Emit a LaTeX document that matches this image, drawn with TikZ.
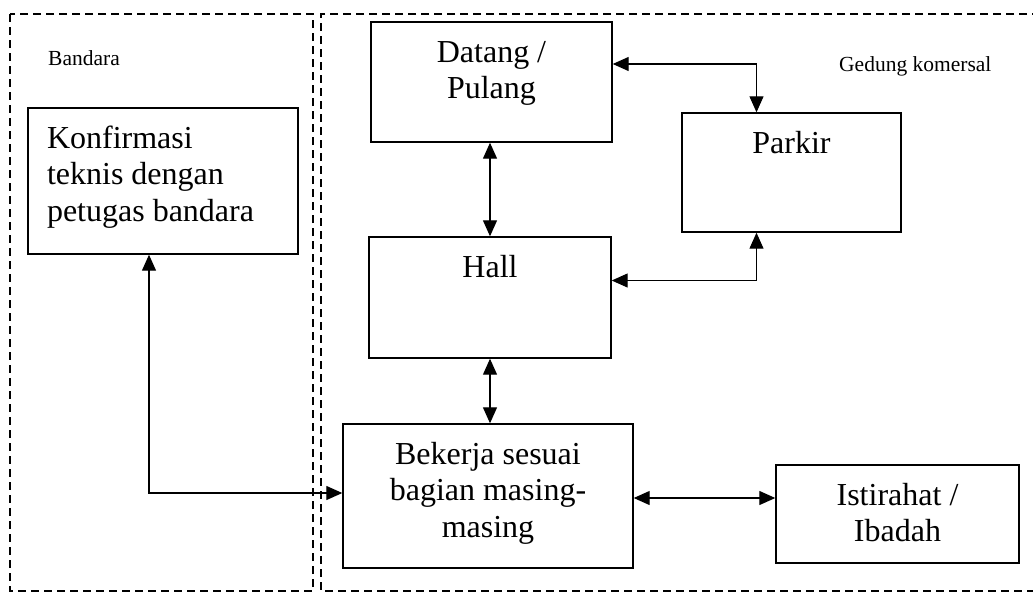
\documentclass[tikz,border=0pt]{standalone}
\usepackage{fontspec}
\setmainfont{Liberation Serif}
\usetikzlibrary{arrows.meta,calc}
\tikzset{>={Triangle[width=14pt,length=16pt]}}
\tikzset{
  box/.style={draw, line width=1.4pt, inner xsep=19pt, inner ysep=0pt,
    font=\fontsize{32}{36.5}\selectfont},
  region/.style={line width=1.3pt, dash pattern=on 8pt off 5pt},
  regionlabel/.style={anchor=base west, inner sep=0pt, font=\fontsize{21.5}{25}\selectfont}
}
% parbox of fixed size, text hung from the top
\newcommand{\boxtext}[4]{\parbox[c][#2][t]{#1}{#3\rule{0pt}{40pt}#4}}

\begin{document}
\begin{tikzpicture}[x=1pt,y=-1pt]
\useasboundingbox (0,0) rectangle (1033,592);
% the two areas
\draw[region] (10,14) rectangle (313,591);
\draw[region] (1040,14) -- (321,14) -- (321,591) -- (1040,591);
\node[regionlabel] (bandara) at (48,65) {Bandara};
\node[regionlabel] (gedung) at (839,71) {Gedung komersal};

\node[box] (konf) at (163,181) {\boxtext{232pt}{146pt}{\raggedright}{Konfirmasi\\teknis dengan\\petugas bandara}};
\node[box] (datang) at (491.5,82) {\boxtext{203pt}{120pt}{\centering}{Datang /\\Pulang}};
\node[box] (parkir) at (791.5,172.5) {\boxtext{181pt}{119pt}{\centering}{Parkir}};
\node[box] (hall) at (490,297.5) {\boxtext{204pt}{121pt}{\centering}{Hall}};
\node[box] (bekerja) at (488,496) {\boxtext{252pt}{144pt}{\centering}{Bekerja sesuai\\bagian masing-\\masing}};
\node[box] (istirahat) at (897.5,514) {\boxtext{205pt}{98pt}{\centering}{Istirahat /\\Ibadah}};

\begin{scope}[line width=1.2pt]
\draw[<->] ([yshift=18pt]datang.east) -| ([xshift=-35pt]parkir.north);
\draw[<->] ([yshift=17pt]hall.east) -| ([xshift=-35pt]parkir.south);
\draw[<->] (hall.north |- datang.south) -- (hall.north);
\draw[<->] (hall.south) -- (hall.south |- bekerja.north);
\draw[<->] ([xshift=-14pt]konf.south) |- ([yshift=3pt]bekerja.west);
\draw[<->] ([yshift=-2pt]bekerja.east) -- ([yshift=-2pt]bekerja.east -| istirahat.west);
\end{scope}
\end{tikzpicture}
\end{document}
